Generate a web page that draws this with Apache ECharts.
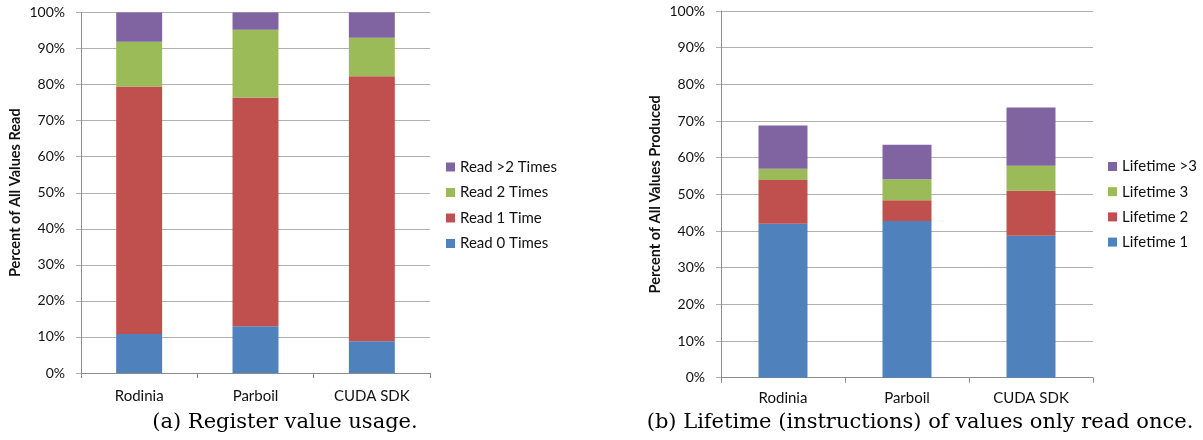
<!DOCTYPE html>
<html>
<head>
<meta charset="utf-8">
<script src="https://cdn.jsdelivr.net/npm/echarts@6/dist/echarts.min.js"></script>
<style>
html,body{margin:0;padding:0;background:#fff;}
#c{width:1203px;height:440px;}
</style>
</head>
<body>
<div id="c"></div>
<script>
// Data
var categories = ['Rodinia', 'Parboil', 'CUDA SDK'];
var yTicks = [0, 10, 20, 30, 40, 50, 60, 70, 80, 90, 100];

// (a) Register value usage (percent of all values read)
var read0Times = [10.8, 13.0, 8.8];
var read1Time = [68.7, 63.4, 73.5];
var read2Times = [12.4, 18.8, 10.7];
var readMore2Times = [8.1, 4.8, 7.0];

// (b) Lifetime of values only read once (percent of all values produced)
var lifetime1 = [42.0, 42.7, 38.7];
var lifetime2 = [11.9, 5.7, 12.3];
var lifetime3 = [3.1, 5.7, 6.8];
var lifetimeMore3 = [11.8, 9.4, 15.9];

var captionA = '(a) Register value usage.';
var captionB = '(b) Lifetime (instructions) of values only read once.';

var BLUE = '#4F81BD', RED = '#C0504D', GREEN = '#9BBB59', PURPLE = '#8064A2';
var SANS = 'Lato, "Open Sans", sans-serif';
var GRID = '#B0B0B0', AXIS = '#8C8C8C', TXT = '#111';

function yAxis(idx, name) {
  return {
    type: 'value', gridIndex: idx, min: yTicks[0], max: yTicks[yTicks.length - 1], interval: 10,
    name: name, nameLocation: 'middle', nameGap: 58, nameRotate: 90,
    nameTextStyle: { fontFamily: SANS, fontWeight: 'bold', fontSize: 14.5, color: TXT },
    axisLine: { show: true, lineStyle: { color: AXIS, width: 1 } },
    axisTick: { show: true, length: 5, lineStyle: { color: GRID } },
    splitLine: { show: true, lineStyle: { color: GRID, width: 1 } },
    axisLabel: { formatter: '{value}%', fontFamily: SANS, fontSize: 14, color: TXT, margin: 16 }
  };
}
function xAxis(idx, margin) {
  return {
    type: 'category', gridIndex: idx, data: categories,
    axisLine: { show: true, lineStyle: { color: AXIS, width: 1 } },
    axisTick: { show: true, length: 5, lineStyle: { color: AXIS } },
    axisLabel: { fontFamily: SANS, fontSize: 15, color: TXT, margin: margin }
  };
}
function bar(name, data, color, idx) {
  return {
    name: name, type: 'bar', stack: 's' + idx, xAxisIndex: idx, yAxisIndex: idx,
    data: data, barWidth: '39.5%', itemStyle: { color: color }, animation: false
  };
}

var chart = echarts.init(document.getElementById('c'), null, { renderer: 'canvas' });
chart.setOption({
  animation: false,
  backgroundColor: '#fff',
  grid: [
    { left: 81, top: 12.5, width: 349, height: 360.5 },
    { left: 721, top: 11, width: 372, height: 366.7 }
  ],
  xAxis: [xAxis(0, 16), xAxis(1, 13)],
  yAxis: [yAxis(0, 'Percent of All Values Read'), yAxis(1, 'Percent of All Values Produced')],
  legend: [
    {
      orient: 'vertical', left: 441, top: 154, itemWidth: 9, itemHeight: 9, itemGap: 9.5,
      icon: 'rect', textStyle: { fontFamily: SANS, fontSize: 15, color: TXT, lineHeight: 16 },
      data: ['Read >2 Times', 'Read 2 Times', 'Read 1 Time', 'Read 0 Times']
    },
    {
      orient: 'vertical', left: 1103, top: 153.5, itemWidth: 9, itemHeight: 9, itemGap: 9.2,
      icon: 'rect', textStyle: { fontFamily: SANS, fontSize: 15, color: TXT, lineHeight: 16 },
      data: ['Lifetime >3', 'Lifetime 3', 'Lifetime 2', 'Lifetime 1']
    }
  ],
  series: [
    bar('Read 0 Times', read0Times, BLUE, 0),
    bar('Read 1 Time', read1Time, RED, 0),
    bar('Read 2 Times', read2Times, GREEN, 0),
    bar('Read >2 Times', readMore2Times, PURPLE, 0),
    bar('Lifetime 1', lifetime1, BLUE, 1),
    bar('Lifetime 2', lifetime2, RED, 1),
    bar('Lifetime 3', lifetime3, GREEN, 1),
    bar('Lifetime >3', lifetimeMore3, PURPLE, 1)
  ],
  graphic: [
    { type: 'text', x: 285, y: 423, style: { text: captionA, font: '21px "DejaVu Serif", serif', fill: '#000', textAlign: 'center', textVerticalAlign: 'middle' } },
    { type: 'text', x: 920, y: 423, style: { text: captionB, font: '21px "DejaVu Serif", serif', fill: '#000', textAlign: 'center', textVerticalAlign: 'middle' } }
  ]
});
</script>
</body>
</html>
